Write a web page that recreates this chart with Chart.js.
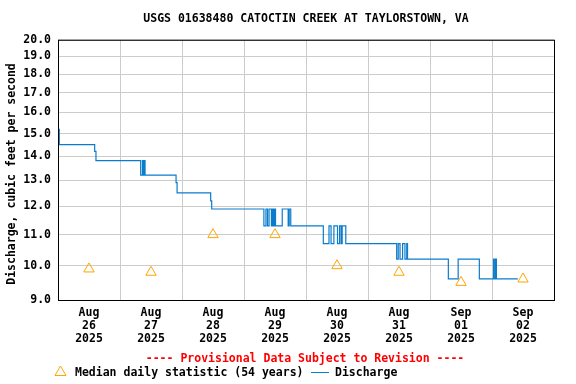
<!DOCTYPE html>
<html lang="en">
<head>
    <meta charset="UTF-8">
    <title>USGS 01638480 Catoctin Creek</title>
    <script src="https://cdn.jsdelivr.net/npm/chart.js"></script>
    <style>
        html, body { margin: 0; padding: 0; background: #fff; }
        .chart-box { width: 576px; height: 384px; }
    </style>
</head>
<body>
    <div class="chart-box"><canvas id="flowChart"></canvas></div>

    <script>
        // hours since Aug 26 2025 00:00, value holds until next point
        const dischargeHours = [0.3, 0.5, 14.2, 14.7, 32.0, 32.7, 33.1, 33.4, 33.7, 45.7, 46.1, 59.1, 59.5,
            79.7, 80.5, 81.1, 81.7, 82.6, 83.0, 83.4, 83.8, 84.2, 86.8, 89.1, 89.5, 90.1,
            102.7, 104.9, 105.7, 106.8, 108.2, 109.0, 109.6, 110.0, 111.4,
            131.1, 131.7, 132.4, 133.4, 134.3, 135.0, 135.3,
            151.1, 154.9, 163.1, 168.6, 168.9, 169.4, 169.7, 178.0];
        const dischargeValues = [15.2, 14.5, 14.2, 13.8, 13.2, 13.8, 13.2, 13.8, 13.2, 12.9, 12.5, 12.2, 11.9,
            11.3, 11.9, 11.3, 11.9, 11.3, 11.9, 11.3, 11.9, 11.3, 11.9, 11.3, 11.9, 11.3,
            10.7, 11.3, 10.7, 11.3, 10.7, 11.3, 10.7, 11.3, 10.7,
            10.2, 10.7, 10.2, 10.7, 10.2, 10.7, 10.2,
            9.6, 10.2, 9.6, 10.2, 9.6, 10.2, 9.6, 9.6];

        const medianHours = [12, 36, 60, 84, 108, 132, 156, 180];
        const medianValues = [9.9, 9.8, 11.0, 11.0, 10.0, 9.8, 9.5, 9.6];

        const tickMonths = ['Aug', 'Aug', 'Aug', 'Aug', 'Aug', 'Aug', 'Sep', 'Sep'];
        const tickDays = ['26', '27', '28', '29', '30', '31', '01', '02'];
        const tickYears = ['2025', '2025', '2025', '2025', '2025', '2025', '2025', '2025'];
        const yTicks = [9, 10, 11, 12, 13, 14, 15, 16, 17, 18, 19, 20];

        const FONT = 'DejaVu Sans Mono';
        const font = { family: FONT, size: 11.5, weight: 'bold' };

        // border, y title, provisional note, legend
        const extras = {
            id: 'extras',
            afterDraw(chart) {
                const ctx = chart.ctx;
                const a = chart.chartArea;
                ctx.save();
                ctx.strokeStyle = '#000';
                ctx.lineWidth = 1;
                ctx.strokeRect(a.left + 0.5, a.top + 0.5, a.right - a.left, a.bottom - a.top);

                ctx.font = 'bold 11.5px "' + FONT + '"';
                ctx.fillStyle = '#000';
                ctx.textBaseline = 'middle';

                ctx.save();
                ctx.translate(12, 174);
                ctx.rotate(-Math.PI / 2);
                ctx.textAlign = 'center';
                ctx.fillText('Discharge, cubic feet per second', 0, 0);
                ctx.restore();

                ctx.textAlign = 'center';
                ctx.fillStyle = '#ff0000';
                ctx.fillText('---- Provisional Data Subject to Revision ----', 305, 359);

                const med = chart.data.datasets[1];
                const dis = chart.data.datasets[0];
                ctx.strokeStyle = med.borderColor;
                ctx.beginPath();
                ctx.moveTo(60.5, 366);
                ctx.lineTo(66, 375.5);
                ctx.lineTo(55, 375.5);
                ctx.closePath();
                ctx.stroke();

                ctx.textAlign = 'left';
                ctx.fillStyle = '#000';
                ctx.fillText(med.label, 75, 373);

                ctx.strokeStyle = dis.borderColor;
                ctx.beginPath();
                ctx.moveTo(311, 372.5);
                ctx.lineTo(329, 372.5);
                ctx.stroke();
                ctx.fillText(dis.label, 335, 373);
                ctx.restore();
            }
        };

        new Chart(document.getElementById('flowChart'), {
            type: 'line',
            data: {
                datasets: [{
                    label: 'Discharge',
                    data: dischargeHours.map((h, i) => ({ x: h, y: dischargeValues[i] })),
                    borderColor: '#0a7ccc',
                    borderWidth: 1.2,
                    stepped: true,
                    pointRadius: 0,
                    fill: false
                }, {
                    label: 'Median daily statistic (54 years)',
                    data: medianHours.map((h, i) => ({ x: h, y: medianValues[i] })),
                    showLine: false,
                    pointStyle: 'triangle',
                    pointRadius: 6,
                    pointBorderWidth: 1,
                    borderColor: '#ffa500',
                    backgroundColor: 'rgba(0,0,0,0)',
                    pointBackgroundColor: 'rgba(0,0,0,0)'
                }]
            },
            options: {
                responsive: true,
                maintainAspectRatio: false,
                animation: false,
                layout: { padding: { left: 0, right: 22, top: 0, bottom: 0 } },
                plugins: {
                    legend: { display: false },
                    tooltip: { enabled: false },
                    title: {
                        display: true,
                        fullSize: false,
                        text: 'USGS 01638480 CATOCTIN CREEK AT TAYLORSTOWN, VA',
                        color: '#000',
                        font: font,
                        padding: { top: 12, bottom: 14 }
                    }
                },
                scales: {
                    x: {
                        type: 'linear',
                        min: 0,
                        max: 192,
                        afterBuildTicks: (scale) => {
                            const t = [];
                            for (let h = 0; h <= 192; h += 12) t.push({ value: h });
                            scale.ticks = t;
                        },
                        afterFit: (scale) => { scale.height = 84; },
                        grid: {
                            color: (c) => (c.tick && c.tick.value % 24 === 0) ? '#cccccc' : 'rgba(0,0,0,0)',
                            drawTicks: false
                        },
                        border: { display: false },
                        ticks: {
                            autoSkip: false,
                            maxRotation: 0,
                            padding: 7,
                            color: '#000',
                            font: { family: FONT, size: 11.5, weight: 'bold', lineHeight: '13px' },
                            callback: (v) => {
                                if (v % 24 !== 12) return '';
                                const i = (v - 12) / 24;
                                return [tickMonths[i], tickDays[i], tickYears[i]];
                            }
                        }
                    },
                    y: {
                        type: 'logarithmic',
                        min: 9,
                        max: 20,
                        afterBuildTicks: (scale) => {
                            scale.ticks = yTicks.map(v => ({ value: v }));
                        },
                        afterFit: (scale) => { scale.width = 58; },
                        grid: { color: '#cccccc', drawTicks: false },
                        border: { display: false },
                        ticks: {
                            autoSkip: false,
                            padding: 7,
                            color: '#000',
                            font: font,
                            callback: (v) => Number(v).toFixed(1)
                        }
                    }
                }
            },
            plugins: [extras]
        });
    </script>
</body>
</html>
